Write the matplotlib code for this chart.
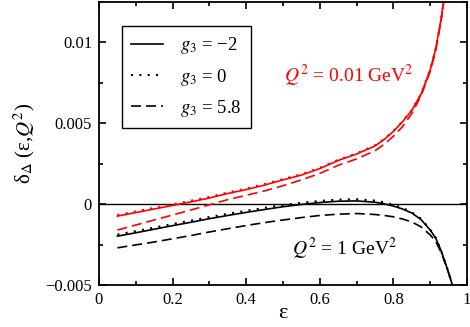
import numpy as np
import matplotlib
matplotlib.use('Agg')
import matplotlib.pyplot as plt
from matplotlib.ticker import MultipleLocator

plt.rcParams['font.family'] = ['Liberation Serif', 'DejaVu Serif']
plt.rcParams['mathtext.fontset'] = 'stix'
plt.rcParams['font.size'] = 12

# epsilon grids of the read-off points
eps = [0.05, 0.1, 0.15, 0.2, 0.25, 0.3, 0.35, 0.4, 0.45, 0.5, 0.55, 0.6, 0.65,
       0.7, 0.75, 0.775, 0.8, 0.825, 0.85, 0.875, 0.9, 0.915, 0.93, 0.94, 0.95]
eps_hi = [0.05, 0.1, 0.15, 0.2, 0.25, 0.3, 0.35, 0.4, 0.45, 0.5, 0.55, 0.6, 0.65,
          0.7, 0.75, 0.775, 0.8, 0.825, 0.85, 0.875, 0.9, 0.915, 0.93, 0.945,
          0.955, 0.965]

# Q^2 = 0.01 GeV^2 (red)
red_m2 = [-0.00074, -0.00052, -0.0003, -0.00008, 0.00014, 0.00038, 0.00066,
          0.0009, 0.00118, 0.0015, 0.0018, 0.0022, 0.0027, 0.0031, 0.0036,
          0.0040, 0.0045, 0.0051, 0.0058, 0.0068, 0.0083, 0.0096, 0.0115,
          0.0131, 0.0155]
red_0 = [-0.00067, -0.00045, -0.00023, -0.00001, 0.00021, 0.00045, 0.00072,
         0.00096, 0.00124, 0.00155, 0.00185, 0.00225, 0.00274, 0.00314, 0.00364,
         0.00403, 0.00453, 0.00512, 0.00582, 0.00682, 0.00832, 0.0096, 0.0115,
         0.0131, 0.0155]
red_58 = [-0.0016, -0.00129, -0.00098, -0.00067, -0.00036, -0.00004, 0.00028,
          0.00055, 0.00082, 0.00114, 0.0015, 0.0019, 0.0024, 0.0028, 0.0033,
          0.0037, 0.0042, 0.0048, 0.0056, 0.0067, 0.0082, 0.0095, 0.0114,
          0.0130, 0.0154]

# Q^2 = 1 GeV^2 (black)
blk_m2 = [-0.00198, -0.00177, -0.00155, -0.00133, -0.00112, -0.0009, -0.0007,
          -0.00051, -0.00033, -0.00016, -0.00002, 0.0001, 0.00018, 0.0002,
          0.00012, 0.00002, -0.00012, -0.0003, -0.00055, -0.00095, -0.0016,
          -0.0021, -0.0029, -0.0039, -0.0046, -0.0054]
blk_0 = [-0.00188, -0.00167, -0.00145, -0.00123, -0.00102, -0.0008, -0.0006,
         -0.00041, -0.00023, -0.00006, 0.00008, 0.0002, 0.00028, 0.0003,
         0.00022, 0.00011, -0.00004, -0.00023, -0.0005, -0.0009, -0.00157,
         -0.00208, -0.0029, -0.0039, -0.0046, -0.0054]
blk_58 = [-0.0027, -0.00252, -0.00234, -0.00214, -0.00194, -0.00172, -0.00152,
          -0.00132, -0.00114, -0.00098, -0.00083, -0.0007, -0.00062, -0.00058,
          -0.00064, -0.0007, -0.00078, -0.00092, -0.0011, -0.0014, -0.0019,
          -0.0023, -0.003, -0.0039, -0.0046, -0.0054]

labels = ['$g_3$ = \u22122', '$g_3$ = 0', '$g_3$ = 5.8']

fig = plt.figure(figsize=(4.7, 3.27), dpi=100)
ax = fig.add_axes([0.2106, 0.1284, 0.783, 0.8655])

dash = (0, (6, 3))
ax.axhline(0, color='black', lw=1.0)
ax.plot(eps, red_m2, color='red', lw=1.2)
ax.plot(eps, red_0, color='red', lw=1.5, ls=(0, (1, 3)))
ax.plot(eps, red_58, color='red', lw=1.2, ls=dash)
l1, = ax.plot(eps_hi, blk_m2, color='black', lw=1.2)
l2, = ax.plot(eps_hi, blk_0, color='black', lw=1.5, ls=(0, (1, 3)))
l3, = ax.plot(eps_hi, blk_58, color='black', lw=1.2, ls=dash)

ax.set_xlim(0, 1)
ax.set_ylim(-0.005, 0.0125)
ax.xaxis.set_minor_locator(MultipleLocator(0.1))
ax.yaxis.set_minor_locator(MultipleLocator(0.0025))
ax.set_xticks([0, 0.2, 0.4, 0.6, 0.8, 1])
ax.set_xticklabels(['0', '0.2', '0.4', '0.6', '0.8', '1'])
ax.set_yticks([-0.005, 0, 0.005, 0.01])
ax.set_yticklabels(['\u22120.005', '0', '0.005', '0.01'])
ax.tick_params(which='both', direction='in', top=True, right=True, width=1.2)
ax.tick_params(which='major', length=5, labelsize=12, pad=5)
ax.tick_params(which='minor', length=3)
for s in ax.spines.values():
    s.set_linewidth(1.3)

ax.set_xlabel('\u03b5', fontsize=16, labelpad=-3)
ax.set_ylabel('\u03b4$_{\\Delta}$ (\u03b5,$Q^2$)', fontsize=15, labelpad=6)

ax.text(0.503, 0.00753, '$Q^2$ = 0.01 GeV$^2$', color='red', fontsize=14)
ax.text(0.525, -0.00315, '$Q^2$ = 1 GeV$^2$', color='black', fontsize=14)

leg = ax.legend([l1, l2, l3], labels, loc='upper left',
                bbox_to_anchor=(0.0625, 0.915), borderaxespad=0,
                fancybox=False, edgecolor='black', framealpha=1,
                handlelength=1.7, handletextpad=0.9, fontsize=13.5,
                labelspacing=0.55, borderpad=0.5)
leg.get_frame().set_linewidth(1.0)

fig.savefig('out.png', dpi=100)
